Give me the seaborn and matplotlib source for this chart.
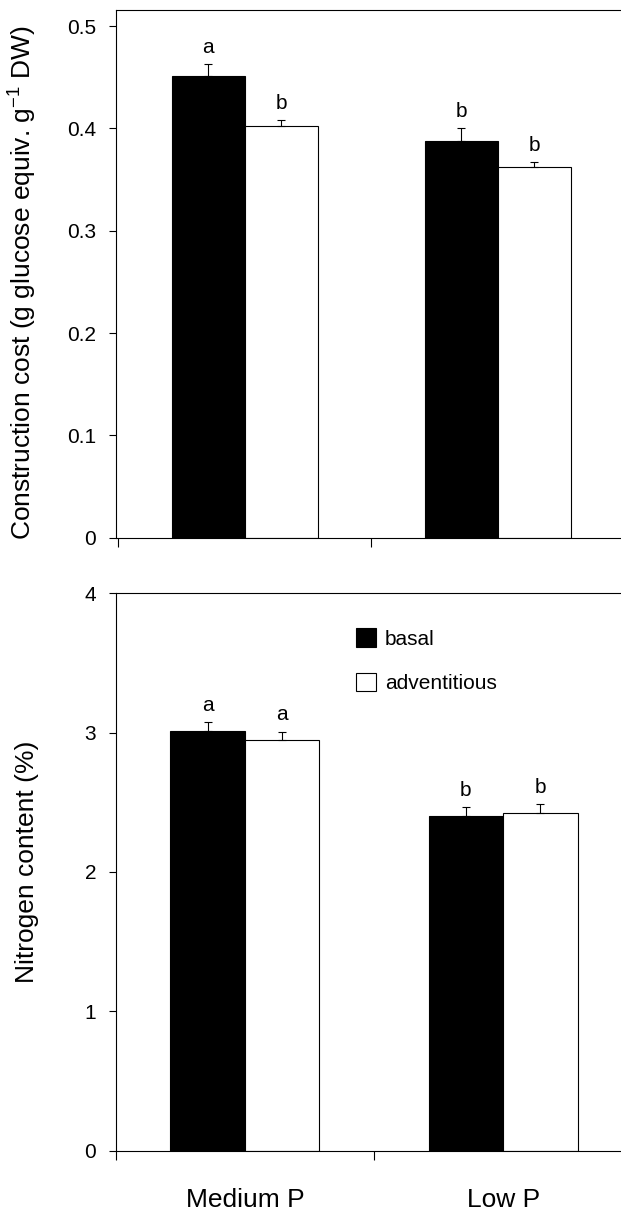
import numpy as np
import pandas as pd
import matplotlib
matplotlib.use("Agg")
import matplotlib.pyplot as plt
from matplotlib.patches import Patch
from matplotlib.container import BarContainer
from matplotlib.ticker import FixedLocator, NullFormatter, FixedFormatter
import seaborn as sns

# ---------------- data ----------------
treatments = ["Medium P", "Low P"]
root_types = ["basal", "adventitious"]

cost_basal = [0.451, 0.388]
cost_adv = [0.402, 0.362]
cost_basal_se = [0.012, 0.012]
cost_adv_se = [0.006, 0.005]
cost_letters_basal = ["a", "b"]
cost_letters_adv = ["b", "b"]

nitro_basal = [3.01, 2.40]
nitro_adv = [2.95, 2.42]
nitro_basal_se = [0.067, 0.064]
nitro_adv_se = [0.058, 0.069]
nitro_letters_basal = ["a", "b"]
nitro_letters_adv = ["a", "b"]

cost_ticks = [0, 0.1, 0.2, 0.3, 0.4, 0.5]
cost_ticklabels = ["0", "0.1", "0.2", "0.3", "0.4", "0.5"]
nitro_ticks = [0, 1, 2, 3, 4]
nitro_ticklabels = ["0", "1", "2", "3", "4"]

cost_ylabel = r"Construction cost (g glucose equiv. g$^{-1}$ DW)"
nitro_ylabel = "Nitrogen content (%)"

bar_colors = {"basal": "black", "adventitious": "white"}


def make_df(b, a, bse, ase, bl, al):
    rows = []
    for i, t in enumerate(treatments):
        rows.append(dict(treatment=t, root="basal", value=b[i], se=bse[i], letter=bl[i]))
        rows.append(dict(treatment=t, root="adventitious", value=a[i], se=ase[i], letter=al[i]))
    return pd.DataFrame(rows)


df_cost = make_df(cost_basal, cost_adv, cost_basal_se, cost_adv_se,
                  cost_letters_basal, cost_letters_adv)
df_nitro = make_df(nitro_basal, nitro_adv, nitro_basal_se, nitro_adv_se,
                   nitro_letters_basal, nitro_letters_adv)

# ---------------- style ----------------
sns.set_theme(style="ticks")
plt.rcParams["font.family"] = ["Liberation Sans", "DejaVu Sans"]
plt.rcParams["mathtext.fontset"] = "custom"
plt.rcParams["mathtext.rm"] = "Liberation Sans"
plt.rcParams["mathtext.it"] = "Liberation Sans:italic"
plt.rcParams["mathtext.bf"] = "Liberation Sans:bold"
plt.rcParams["text.color"] = "black"
plt.rcParams["axes.labelcolor"] = "black"
plt.rcParams["xtick.color"] = "black"
plt.rcParams["ytick.color"] = "black"

W, H = 621, 1211
fig = plt.figure(figsize=(W / 100, H / 100), dpi=100)


def px_axes(left, top, right, bottom):
    return fig.add_axes([left / W, 1 - bottom / H, (right - left) / W, (bottom - top) / H])


ax1 = px_axes(115.7, 10, 115.7 + 2.01 * 253, 537.7)
ax2 = px_axes(115.7, 593.3, 115.7 + 2.0 * 258.3, 1150.6)

TICK_FS = 15
LETTER_FS = 15
LABEL_FS = 19
LW = 0.8


def draw(ax, df, ylim, xlim, yticks, yticklabels, ylabel):
    sns.barplot(data=df, x="treatment", y="value", hue="root",
                order=treatments, hue_order=root_types, palette=bar_colors,
                edgecolor="black", linewidth=LW, width=0.578, gap=0,
                errorbar=None, legend=False, ax=ax, saturation=1)
    bar_conts = [c for c in ax.containers if isinstance(c, BarContainer)]
    for ci, cont in enumerate(bar_conts):
        level = root_types[ci]
        sub = df[df["root"] == level].set_index("treatment").loc[treatments]
        for bar, (t, row) in zip(cont, sub.iterrows()):
            x = bar.get_x() + bar.get_width() / 2
            y = bar.get_height()
            ax.errorbar([x], [y], yerr=[[0], [row["se"]]], fmt="none",
                        ecolor="black", elinewidth=LW, capsize=3, capthick=LW, zorder=3)
            ax.annotate(row["letter"], (x, y + row["se"]), xytext=(0, 8),
                        textcoords="offset points", ha="center", va="baseline",
                        fontsize=LETTER_FS, color="black")
    ax.set_xlim(*xlim)
    ax.set_ylim(*ylim)
    ax.set_yticks(yticks)
    ax.set_yticklabels(yticklabels)
    ax.xaxis.set_major_locator(FixedLocator([-0.5, 0.5, 1.5]))
    ax.xaxis.set_major_formatter(NullFormatter())
    ax.set_xlabel("")
    ax.set_ylabel(ylabel, fontsize=LABEL_FS, color="black")
    for s in ["left", "bottom", "top"]:
        ax.spines[s].set_visible(True)
        ax.spines[s].set_color("black")
        ax.spines[s].set_linewidth(LW)
    ax.spines["right"].set_visible(False)
    ax.tick_params(axis="y", which="major", direction="out", length=5, width=LW,
                   labelsize=TICK_FS, pad=9, colors="black")
    ax.tick_params(axis="x", which="major", direction="out", length=6.5, width=LW,
                   colors="black")
    ax.set_facecolor("white")


draw(ax1, df_cost, (0, 0.5157), (-0.51, 1.5), cost_ticks, cost_ticklabels, cost_ylabel)
draw(ax2, df_nitro, (0, 4), (-0.5, 1.5), nitro_ticks, nitro_ticklabels, nitro_ylabel)

ax1.yaxis.set_label_coords(-0.151, 0.4836)
ax2.yaxis.set_label_coords(-0.149, 0.518)

# category labels on the lower panel
ax2.xaxis.set_minor_locator(FixedLocator([0, 1]))
ax2.xaxis.set_minor_formatter(FixedFormatter(treatments))
ax2.tick_params(axis="x", which="minor", length=0, pad=27, labelsize=LABEL_FS, colors="black")

handles = [Patch(facecolor=bar_colors[r], edgecolor="black", linewidth=LW) for r in root_types]
ax2.legend(handles, root_types, loc="upper left", bbox_to_anchor=(0.4644, 0.937),
           frameon=False, borderpad=0, borderaxespad=0, fontsize=15,
           handlelength=0.96, handleheight=0.96, handletextpad=0.45, labelspacing=1.15)

fig.savefig("out.png", dpi=100, facecolor="white")
